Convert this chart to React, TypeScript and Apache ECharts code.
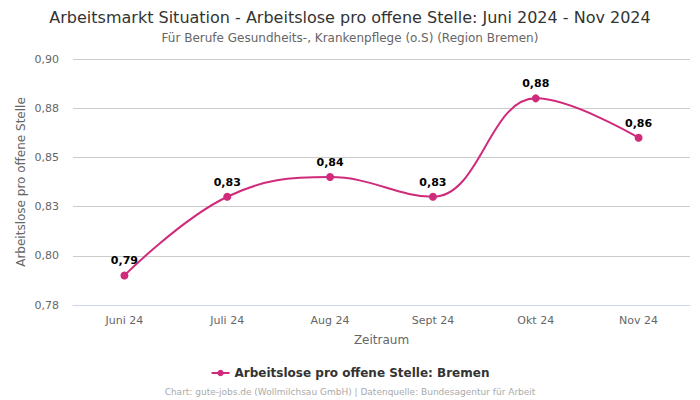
import React, { useEffect, useRef } from "react";
import * as echarts from "echarts";

const categories = ["Juni 24", "Juli 24", "Aug 24", "Sept 24", "Okt 24", "Nov 24"];
const values = [0.79, 0.83, 0.84, 0.83, 0.88, 0.86];
const seriesName = "Arbeitslose pro offene Stelle: Bremen";
const titleText = "Arbeitsmarkt Situation - Arbeitslose pro offene Stelle: Juni 2024 - Nov 2024";
const subtitleText = "Für Berufe Gesundheits-, Krankenpflege (o.S) (Region Bremen)";
const footerText = "Chart: gute-jobs.de (Wollmilchsau GmbH) | Datenquelle: Bundesagentur für Arbeit";

const fmt = (v: number) => (Math.round(v * 100 + 1e-6) / 100).toFixed(2).replace(".", ",");
const FONT = "DejaVu Sans";
const COLOR = "#d02b7b";

export default function App() {
  const ref = useRef<HTMLDivElement>(null);
  useEffect(() => {
    const chart = echarts.init(ref.current!, null, { renderer: "svg" });
    chart.setOption({
      animation: false,
      textStyle: { fontFamily: FONT },
      title: [
        {
          text: titleText,
          left: "center",
          top: 9,
          padding: 0,
          textStyle: { fontSize: 16, fontWeight: "normal", color: "#333", fontFamily: FONT },
        },
        {
          text: subtitleText,
          left: "center",
          top: 32,
          padding: 0,
          textStyle: { fontSize: 12, fontWeight: "normal", color: "#666", fontFamily: FONT },
        },
        {
          text: footerText,
          left: "center",
          top: 387,
          padding: 0,
          textStyle: { fontSize: 9, fontWeight: "normal", color: "#aaa", fontFamily: FONT },
        },
      ],
      legend: {
        data: [seriesName],
        top: 362,
        left: "center",
        itemWidth: 18,
        itemHeight: 8,
        textStyle: { fontSize: 12, fontWeight: "bold", color: "#333", fontFamily: FONT },
      },
      grid: { left: 73, right: 10, top: 59, bottom: 95, containLabel: false },
      xAxis: {
        type: "category",
        data: categories,
        boundaryGap: true,
        name: "Zeitraum",
        nameLocation: "middle",
        nameGap: 29,
        nameMoveOverlap: false,
        nameTextStyle: { fontSize: 12, color: "#666", fontFamily: FONT },
        axisLine: { show: true, lineStyle: { color: "#ccd6eb" } },
        axisTick: { show: false },
        axisLabel: { fontSize: 11, color: "#666", margin: 10, fontFamily: FONT },
      },
      yAxis: {
        type: "value",
        min: 0.775,
        max: 0.9,
        interval: 0.025,
        name: "Arbeitslose pro offene Stelle",
        nameLocation: "middle",
        nameGap: 46,
        nameMoveOverlap: false,
        nameTextStyle: { fontSize: 12, color: "#666", fontFamily: FONT },
        axisLine: { show: false },
        axisTick: { show: false },
        axisLabel: { fontSize: 11, color: "#666", formatter: (v: number) => fmt(v), margin: 14, fontFamily: FONT },
        splitLine: { lineStyle: { color: "#cccccc" } },
      },
      series: [
        {
          name: seriesName,
          type: "line",
          smooth: 0.4,
          data: values,
          symbol: "circle",
          symbolSize: 8,
          itemStyle: { color: COLOR },
          lineStyle: { color: COLOR, width: 2 },
          label: {
            show: true,
            position: "top",
            distance: 5,
            formatter: (p: any) => fmt(p.value),
            fontSize: 11,
            fontWeight: "bold",
            color: "#000",
            fontFamily: FONT,
          },
        },
      ],
    });
    return () => chart.dispose();
  }, []);
  return <div ref={ref} style={{ width: 700, height: 400, position: "absolute", left: 0, top: 0 }} />;
}
